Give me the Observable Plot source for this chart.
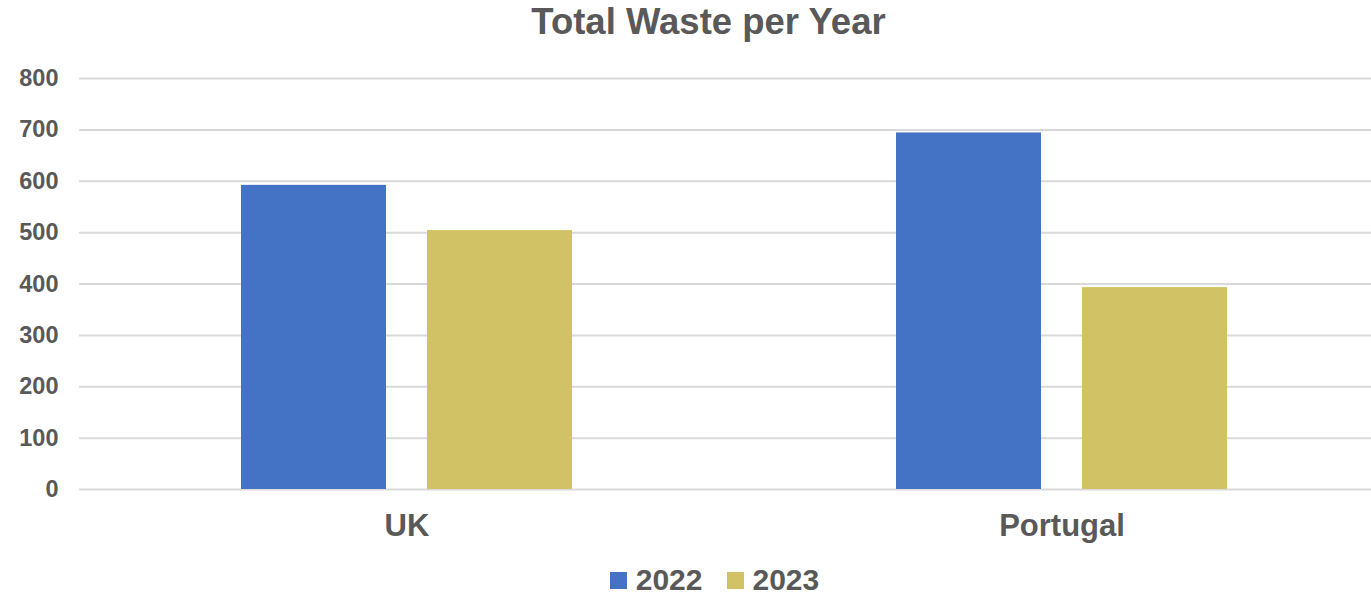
<!DOCTYPE html>
<html>
<head>
<meta charset="utf-8">
<script src="https://cdn.jsdelivr.net/npm/d3@7"></script>
<script src="https://cdn.jsdelivr.net/npm/@observablehq/plot@0.6"></script>
<style>
  html, body { margin: 0; padding: 0; background: #fff; }
  body { width: 1371px; height: 602px; overflow: hidden; font-family: "Liberation Sans", Arial, Helvetica, sans-serif; color: #595959; }
  #title { height: 48px; line-height: 44px; font-size: 36.5px; font-weight: bold; text-align: center; padding-left: 46px; box-sizing: border-box; }
  #chart svg { display: block; }
  #legend { height: 44px; display: flex; justify-content: center; align-items: center; padding-left: 58px; box-sizing: border-box; font-size: 30px; font-weight: bold; }
  .item { display: flex; align-items: center; margin: 0 12px; }
  .sw { width: 17px; height: 17px; margin-right: 9px; }
</style>
</head>
<body>
<div id="title">Total Waste per Year</div>
<div id="chart"></div>
<div id="legend"></div>
<script>
const countries = ["UK", "Portugal"];
const years = ["2022", "2023"];
const values2022 = [592, 694];
const values2023 = [504, 393];
const yTicks = [0, 100, 200, 300, 400, 500, 600, 700, 800];
const colors = ["#4472c4", "#d1c266"];

const table = [];
countries.forEach((c, i) => {
  table.push({country: c, year: years[0], value: values2022[i]});
  table.push({country: c, year: years[1], value: values2023[i]});
});

const chart = Plot.plot({
  width: 1371,
  height: 510,
  marginTop: 30,
  marginBottom: 69,
  marginLeft: 79,
  marginRight: 0,
  style: {fontFamily: '"Liberation Sans", Arial, Helvetica, sans-serif', color: "#595959", background: "#fff"},
  fx: {domain: countries, range: [79, 1389], padding: 0, label: null},
  x: {domain: years, paddingInner: 0.219, paddingOuter: 0.861, axis: null},
  y: {domain: [0, 800], label: null},
  color: {domain: years, range: colors},
  marks: [
    Plot.gridY(yTicks, {stroke: "#d9d9d9", strokeOpacity: 1, strokeWidth: 2}),
    Plot.axisY(yTicks, {tickSize: 0, tickPadding: 21, fontSize: 23.5, fontWeight: "bold", fill: "#595959", label: null}),
    Plot.axisFx({anchor: "bottom", tickSize: 0, tickPadding: 24, fontSize: 31, fontWeight: "bold", fill: "#595959", label: null}),
    Plot.barY(table, {fx: "country", x: "year", y: "value", fill: "year"})
  ]
});
document.getElementById("chart").appendChild(chart);

const legend = document.getElementById("legend");
years.forEach((y, i) => {
  const it = document.createElement("div");
  it.className = "item";
  const sw = document.createElement("div");
  sw.className = "sw";
  sw.style.background = colors[i];
  const t = document.createElement("span");
  t.textContent = y;
  it.appendChild(sw);
  it.appendChild(t);
  legend.appendChild(it);
});
</script>
</body>
</html>
